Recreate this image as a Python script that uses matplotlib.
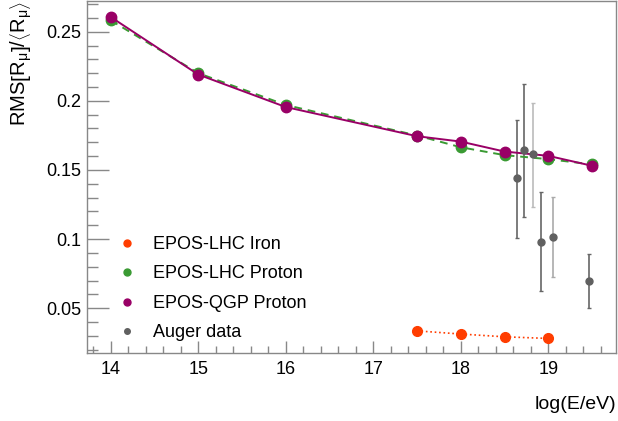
import matplotlib
matplotlib.use("Agg")
import matplotlib.pyplot as plt
from matplotlib.lines import Line2D
from matplotlib.ticker import MultipleLocator, FuncFormatter

plt.rcParams['font.family'] = ['Liberation Sans', 'DejaVu Sans']
plt.rcParams['mathtext.fontset'] = 'custom'
plt.rcParams['mathtext.rm'] = 'Liberation Sans'
plt.rcParams['mathtext.it'] = 'Liberation Sans:italic'
plt.rcParams['mathtext.default'] = 'regular'

# simulation energies, log10(E/eV)
log_e = [14, 15, 16, 17.5, 18, 18.5, 19, 19.5]
lhc_proton = [0.2582, 0.2200, 0.1970, 0.1749, 0.1664, 0.1607, 0.1578, 0.1540]
qgp_proton = [0.2606, 0.2190, 0.1955, 0.1744, 0.1705, 0.1633, 0.1602, 0.1530]

log_e_iron = [17.5, 18, 18.5, 19]
lhc_iron = [0.0336, 0.0313, 0.0293, 0.0281]

# Auger measurements
auger_x = [18.642, 18.726, 18.82, 18.917, 19.05, 19.465]
auger_y = [0.1439, 0.1643, 0.1612, 0.0980, 0.1012, 0.0695]
auger_lo = [0.1011, 0.1163, 0.1235, 0.0625, 0.0723, 0.0504]
auger_hi = [0.1862, 0.2121, 0.1984, 0.1338, 0.1307, 0.0889]
auger_bar_color = ['#666666', '#666666', '#bbbbbb', '#666666', '#aaaaaa', '#666666']

c_iron = '#ff3d00'
c_lhc = '#3a9a33'
c_qgp = '#990066'
c_auger = '#606060'
frame = '#888888'

fig = plt.figure(figsize=(6.18, 4.21), dpi=100)
ax = fig.add_axes([86.7 / 618, 1 - 352.7 / 421, (616.3 - 86.7) / 618, (352.7 - 1) / 421])

ax.plot(log_e, lhc_proton, '--', color=c_lhc, lw=1.4, dashes=(4, 3), marker='o', ms=7.5, zorder=3)
ax.plot(log_e, qgp_proton, '-', color=c_qgp, lw=1.4, marker='o', ms=7.5, zorder=4)
ax.plot(log_e_iron, lhc_iron, ':', color=c_iron, lw=1.2, marker='o', ms=7, zorder=3)

for x, y, lo, hi, bc in zip(auger_x, auger_y, auger_lo, auger_hi, auger_bar_color):
    ax.errorbar([x], [y], yerr=[[y - lo], [hi - y]], fmt='none', ecolor=bc,
                elinewidth=1.2, capsize=1.5, capthick=1, zorder=2)
ax.plot(auger_x, auger_y, 'o', color=c_auger, ms=5, zorder=5)

ax.set_xlim(13.725, 19.777)
ax.set_ylim(0.0178, 0.2722)

ax.xaxis.set_major_locator(MultipleLocator(1))
ax.xaxis.set_minor_locator(MultipleLocator(0.2))
ax.yaxis.set_major_locator(MultipleLocator(0.05))
ax.yaxis.set_minor_locator(MultipleLocator(0.01))
ax.yaxis.set_major_formatter(FuncFormatter(lambda v, p: '%g' % round(v, 3)))

ax.tick_params(which='both', direction='in', color=frame, width=1, labelsize=13)
ax.tick_params(axis='x', which='major', length=9, pad=6)
ax.tick_params(axis='x', which='minor', length=5)
ax.tick_params(axis='y', which='major', length=16, pad=4)
ax.tick_params(axis='y', which='minor', length=8)
ax.tick_params(top=False, right=False)
for s in ax.spines.values():
    s.set_color(frame)
    s.set_linewidth(1)

ax.set_xlabel('log(E/eV)', loc='right', fontsize=14, labelpad=13)
ax.set_ylabel(r'RMS$\left[R_{\mu}\right]/\left\langle R_{\mu}\right\rangle$',
              loc='top', fontsize=14.5, labelpad=9)

handles = [
    Line2D([], [], ls='none', marker='o', ms=5, color=c_iron, label='EPOS-LHC Iron'),
    Line2D([], [], ls='none', marker='o', ms=5, color=c_lhc, label='EPOS-LHC Proton'),
    Line2D([], [], ls='none', marker='o', ms=5, color=c_qgp, label='EPOS-QGP Proton'),
    Line2D([], [], ls='none', marker='o', ms=4, color=c_auger, label='Auger data'),
]
ax.legend(handles=handles, loc='upper left', bbox_to_anchor=(118 / 618, 1 - 236 / 421),
          bbox_transform=fig.transFigure, frameon=False, fontsize=13,
          handlelength=1, handletextpad=0.94, labelspacing=0.69,
          borderpad=0, borderaxespad=0)

fig.savefig('out.png', dpi=100)
